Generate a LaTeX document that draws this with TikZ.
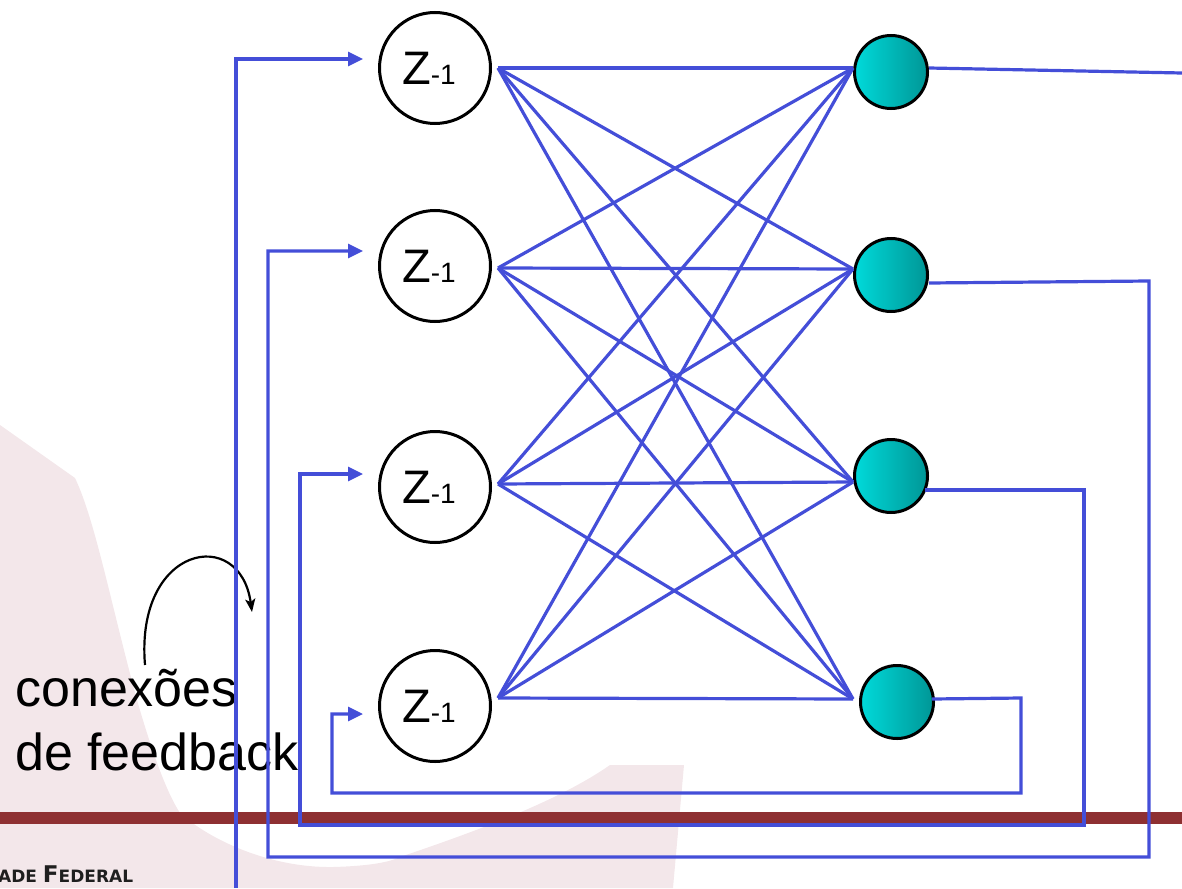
\documentclass[tikz,border=0pt]{standalone}
\usepackage{fontspec}
\setmainfont{Liberation Sans}
\newfontfamily\dejavu{DejaVu Sans}
\usetikzlibrary{arrows.meta}
\definecolor{netblue}{RGB}{68,78,216}
\definecolor{pinkbg}{RGB}{243,231,234}
\definecolor{barred}{RGB}{142,48,50}
\definecolor{tealL}{RGB}{0,218,218}
\definecolor{tealR}{RGB}{0,150,150}
\tikzset{
  delay/.style={circle,draw=black,line width=3pt,minimum size=111pt,inner sep=0pt,fill=white},
  neuron/.style={circle,draw=black,line width=3pt,minimum size=73pt,inner sep=0pt,left color=tealL,right color=tealR},
  mesh/.style={draw=netblue,line width=3.2pt},
  fb/.style={draw=netblue,line width=3.2pt},
  fbarrow/.style={fb,-{Triangle[length=15pt,width=14pt]}},
  zlabel/.style={font=\fontsize{47}{47}\selectfont},
}
\newcommand{\zmin}{Z{\fontsize{28}{28}\selectfont -1}}
\begin{document}
\begin{tikzpicture}[x=1pt,y=-1pt]
\useasboundingbox (0,0) rectangle (1182,888);
% background watermark
\fill[pinkbg] (0,425) -- (75,478) .. controls (95,520) and (110,600) .. (137,700)
  .. controls (150,745) and (165,790) .. (180,813)
  .. controls (210,840) and (270,868) .. (333,867)
  .. controls (370,866) and (390,862) .. (400,857)
  .. controls (480,830) and (560,800) .. (610,765)
  -- (684,765) -- (673,888) -- (0,888) -- cycle;
\fill[barred] (0,812) rectangle (1182,824);
\node[anchor=base west,text=black!88,inner sep=0pt] (uni) at (-2,882)
  {\dejavu\bfseries\fontsize{17}{17}\selectfont ADE \fontsize{23}{23}\selectfont F\fontsize{17}{17}\selectfont EDERAL};
% caption
\node[anchor=base west,inner sep=0pt,font=\fontsize{52}{65}\selectfont] (cap) at (15,706) {conexões};
\node[anchor=base west,inner sep=0pt,font=\fontsize{52}{65}\selectfont] (cap2) at (15,770) {de feedback};
\coordinate (cs) at (145,665);
\coordinate (ce) at (252,612);
\draw[line width=2.2pt,-{Stealth[length=13pt,width=10pt,inset=3pt]}] (cs) .. controls (135,545) and (240,525) .. (ce);
% nodes
\node[delay] (z1) at (435,68) {};
\node[delay] (z2) at (435,266) {};
\node[delay] (z3) at (435,487) {};
\node[delay] (z4) at (435,706) {};
\foreach \i in {1,...,4} \node[zlabel] at ([xshift=-6pt]z\i) {\zmin};
\node[neuron] (t1) at (891,72) {};
\node[neuron] (t2) at (891,275) {};
\node[neuron] (t3) at (891,476) {};
\node[neuron] (t4) at (897,702) {};
% mesh anchor points
\coordinate (zo1) at (498,68);
\coordinate (zo2) at (498,268);
\coordinate (zo3) at (498,484);
\coordinate (zo4) at (498,698);
\coordinate (ti1) at (853,68);
\coordinate (ti2) at (853,269);
\coordinate (ti3) at (853,482);
\coordinate (ti4) at (853,699);
\foreach \i in {1,...,4}{\foreach \j in {1,...,4}{\draw[mesh] (zo\i) -- (ti\j);}}
% feedback
\coordinate (to1) at (929,68);
\coordinate (to2) at (929,283);
\coordinate (to3) at (925,490);
\coordinate (to4) at (932,699);
\coordinate (a1) at (363,59);
\coordinate (a2) at (363,251);
\coordinate (a3) at (363,474);
\coordinate (a4) at (363,714);
\coordinate (e1) at (1182,73);
\coordinate (b1) at (236,888);
\draw[fb] (to1) -- (e1);
\draw[fbarrow] (b1) |- (a1);
\draw[fbarrow] (to2) -- (1149,281) |- (268,857) |- (a2);
\draw[fbarrow] (to3) -- (1084,490) |- (300,825) |- (a3);
\draw[fbarrow] (to4) -- (1021,698) |- (332,793) |- (a4);
\end{tikzpicture}
\end{document}
